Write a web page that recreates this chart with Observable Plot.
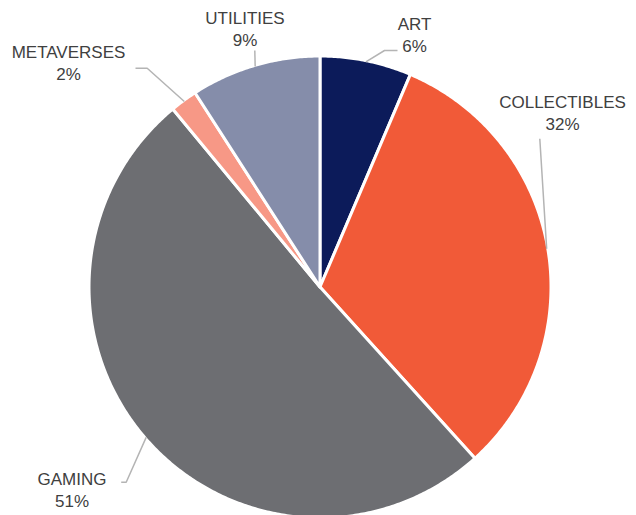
<!DOCTYPE html>
<html>
<head>
<meta charset="utf-8">
<script src="https://cdn.jsdelivr.net/npm/d3@7"></script>
<script src="https://cdn.jsdelivr.net/npm/@observablehq/plot@0.6"></script>
<style>
  html, body { margin: 0; padding: 0; background: #fff; }
  #chart svg { display: block; }
</style>
</head>
<body>
<div id="chart"></div>
<script>
// ---- data ----
const categories = ["ART", "COLLECTIBLES", "GAMING", "METAVERSES", "UTILITIES"];
const shares = [6.4, 31.9, 50.7, 1.9, 9.1];
const colors = ["#0c1b5a", "#f15a38", "#6d6e72", "#f79886", "#858daa"];

// ---- layout (pixel offsets from pie centre, y up) ----
const W = 636, H = 515;
const cx = 319.5, cy = 286.5, R = 231;
const labelPos = {
  "ART":          {x: 94.5,  y: 235.5, leader: [[64.5, 236.5], [77.5, 236.5]]},
  "COLLECTIBLES": {x: 242.5, y: 157.5, leader: [[219.8, 148.2]]},
  "GAMING":       {x: -248,  y: -219.5, leader: [[-193.8, -195.2], [-198.8, -195.2]]},
  "METAVERSES":   {x: -251.5, y: 207.5, leader: [[-172.8, 218.8], [-184.5, 218.8]]},
  "UTILITIES":    {x: -75,   y: 241.5, leader: [[-65.2, 236.5]]}
};

// ---- derived geometry ----
const total = d3.sum(shares);
const slices = [];
let acc = 0;
categories.forEach((name, i) => {
  const a0 = acc / total * 2 * Math.PI;
  acc += shares[i];
  const a1 = acc / total * 2 * Math.PI;
  slices.push({name, value: shares[i], a0, a1, mid: (a0 + a1) / 2});
});

const piePoints = [];
for (const s of slices) {
  piePoints.push({name: s.name, x: 0, y: 0});
  const n = Math.max(2, Math.ceil((s.a1 - s.a0) / (Math.PI / 360)));
  for (let k = 0; k <= n; k++) {
    const a = s.a0 + (s.a1 - s.a0) * k / n;
    piePoints.push({name: s.name, x: R * Math.sin(a), y: R * Math.cos(a)});
  }
  piePoints.push({name: s.name, x: 0, y: 0});
}

const leaderPoints = [];
for (const s of slices) {
  const r0 = R * 0.995;
  leaderPoints.push({name: s.name, x: r0 * Math.sin(s.mid), y: r0 * Math.cos(s.mid)});
  for (const [x, y] of labelPos[s.name].leader) leaderPoints.push({name: s.name, x, y});
}

const labels = slices.map(s => ({
  name: s.name,
  x: labelPos[s.name].x,
  y: labelPos[s.name].y,
  text: `${s.name}\n${Math.round(s.value / total * 100)}%`
}));

const chart = Plot.plot({
  width: W,
  height: H,
  margin: 0,
  style: {background: "#fff", overflow: "hidden"},
  x: {domain: [-R, R], range: [cx - R, cx + R], axis: null},
  y: {domain: [-R, R], range: [cy + R, cy - R], axis: null},
  color: {domain: categories, range: colors},
  marks: [
    Plot.line(piePoints, {
      x: "x", y: "y", z: "name", fill: "name",
      stroke: "white", strokeWidth: 3, strokeLinejoin: "round", curve: "linear"
    }),
    Plot.line(leaderPoints, {
      x: "x", y: "y", z: "name",
      stroke: "#b4b4b4", strokeWidth: 1.5, strokeLinejoin: "miter", strokeLinecap: "butt"
    }),
    Plot.text(labels, {
      x: "x", y: "y", text: "text",
      lineAnchor: "bottom", lineHeight: 1.25, textAnchor: "middle",
      fontSize: 17, fontFamily: "Liberation Sans, Arial, sans-serif",
      fill: "#404040"
    })
  ]
});
document.getElementById("chart").appendChild(chart);
</script>
</body>
</html>
